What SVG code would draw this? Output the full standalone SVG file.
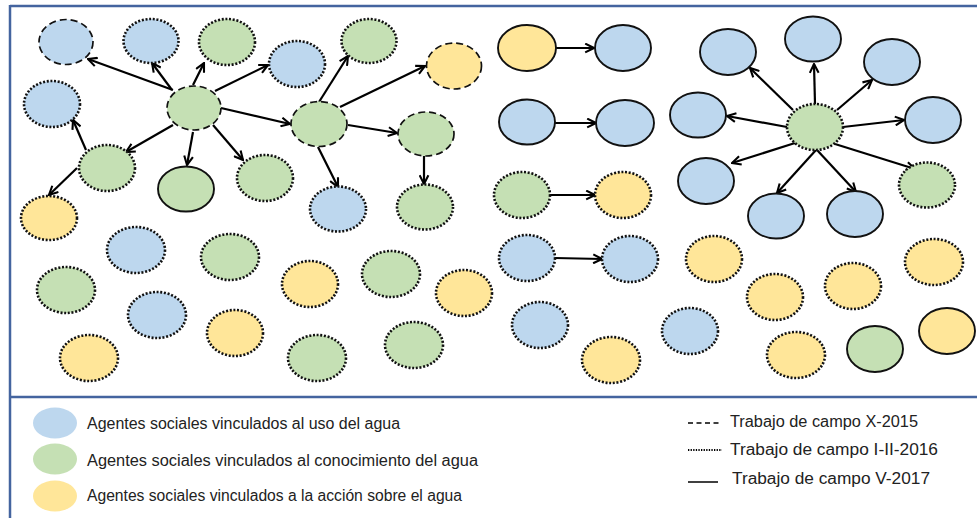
<svg xmlns="http://www.w3.org/2000/svg" width="977" height="518" viewBox="0 0 977 518">
<style>
.b{fill:#bdd7ee}.g{fill:#c5e0b4}.y{fill:#ffe699}
.dash{stroke:#111;stroke-width:1.7;stroke-dasharray:7 4}
.dot{stroke:#111;stroke-width:2.6;stroke-dasharray:2 1.7}
.sol{stroke:#111;stroke-width:1.9}
#edges line{stroke:#000;stroke-width:2.2;marker-end:url(#ah)}
.frame{stroke:#44649f;stroke-width:2.5;fill:none}
.lt{font-family:"Liberation Sans",Arial,sans-serif;font-size:16px;fill:#222}
</style>
<defs>
<marker id="ah" viewBox="0 0 10 10" refX="9" refY="5" markerWidth="11" markerHeight="11" markerUnits="userSpaceOnUse" orient="auto">
<path d="M1,1 L9,5 L1,9" fill="none" stroke="#000" stroke-width="1.9"/>
</marker>
</defs>
<rect width="977" height="518" fill="#fff"/>
<g id="frame">
<line class="frame" x1="10" y1="6" x2="977" y2="6"/>
<line class="frame" x1="10" y1="5" x2="10" y2="518"/>
<line class="frame" x1="10" y1="397" x2="977" y2="397"/>
</g>
<g id="edges">
<line x1="173" y1="90" x2="88" y2="59"/>
<line x1="172" y1="90" x2="152" y2="63"/>
<line x1="193" y1="85" x2="204" y2="63"/>
<line x1="215" y1="91" x2="268" y2="65"/>
<line x1="221" y1="108" x2="290" y2="124"/>
<line x1="173" y1="125" x2="126" y2="152"/>
<line x1="193" y1="132" x2="187" y2="165"/>
<line x1="213" y1="125" x2="243" y2="160"/>
<line x1="86" y1="150" x2="73" y2="120"/>
<line x1="77" y1="168" x2="49" y2="195"/>
<line x1="319" y1="102" x2="348" y2="56"/>
<line x1="340" y1="107" x2="425" y2="66"/>
<line x1="348" y1="125" x2="397" y2="133"/>
<line x1="318" y1="147" x2="338" y2="187"/>
<line x1="424" y1="156" x2="424" y2="184"/>
<line x1="556" y1="48" x2="594" y2="48"/>
<line x1="555" y1="123" x2="596" y2="123"/>
<line x1="550" y1="195" x2="595" y2="195"/>
<line x1="555" y1="258" x2="602" y2="259"/>
<line x1="793" y1="110" x2="750" y2="68"/>
<line x1="815" y1="104" x2="814" y2="64"/>
<line x1="837" y1="110" x2="872" y2="80"/>
<line x1="843" y1="127" x2="904" y2="120"/>
<line x1="787" y1="127" x2="727" y2="116"/>
<line x1="795" y1="143" x2="732" y2="163"/>
<line x1="835" y1="144" x2="915" y2="169"/>
<line x1="816" y1="150" x2="777" y2="193"/>
<line x1="817" y1="150" x2="856" y2="192"/>
</g>
<g id="n1"><ellipse class="b dash" cx="66" cy="42" rx="27" ry="22.5"/></g>
<g id="n2"><ellipse class="b dot" cx="151" cy="41" rx="27.5" ry="22"/></g>
<g id="n3"><ellipse class="g dot" cx="227" cy="42" rx="28" ry="23"/></g>
<g id="n4"><ellipse class="b dot" cx="297" cy="64" rx="28" ry="23"/></g>
<g id="n5"><ellipse class="g dot" cx="369" cy="41" rx="27.5" ry="22"/></g>
<g id="n6"><ellipse class="y dash" cx="454" cy="66" rx="27.5" ry="23"/></g>
<g id="n7"><ellipse class="b dot" cx="52" cy="104" rx="28" ry="23"/></g>
<g id="n8"><ellipse class="g dash" cx="194" cy="108" rx="27" ry="22"/></g>
<g id="n9"><ellipse class="g dash" cx="319" cy="124" rx="28" ry="22.5"/></g>
<g id="n10"><ellipse class="g dash" cx="426" cy="134" rx="28" ry="22"/></g>
<g id="n11"><ellipse class="g dot" cx="107" cy="168" rx="28" ry="23"/></g>
<g id="n12"><ellipse class="g sol" cx="186" cy="189" rx="28" ry="22.5"/></g>
<g id="n13"><ellipse class="g dot" cx="265" cy="178" rx="28" ry="23"/></g>
<g id="n14"><ellipse class="b dot" cx="338" cy="209" rx="28" ry="22.5"/></g>
<g id="n15"><ellipse class="g dot" cx="425" cy="207" rx="28" ry="22.5"/></g>
<g id="n16"><ellipse class="y dot" cx="49" cy="218" rx="28" ry="22"/></g>
<g id="n17"><ellipse class="b dot" cx="136" cy="250" rx="29" ry="23"/></g>
<g id="n18"><ellipse class="g dot" cx="230" cy="257" rx="29" ry="23"/></g>
<g id="n19"><ellipse class="g dot" cx="66" cy="290" rx="29" ry="23"/></g>
<g id="n20"><ellipse class="y dot" cx="310" cy="284" rx="28" ry="23"/></g>
<g id="n21"><ellipse class="g dot" cx="391" cy="274" rx="29" ry="23"/></g>
<g id="n22"><ellipse class="y dot" cx="464" cy="293" rx="28" ry="23"/></g>
<g id="n23"><ellipse class="b dot" cx="157" cy="315" rx="29" ry="23"/></g>
<g id="n24"><ellipse class="y dot" cx="235" cy="333" rx="28" ry="23"/></g>
<g id="n25"><ellipse class="y dot" cx="89" cy="358" rx="29" ry="23"/></g>
<g id="n26"><ellipse class="g dot" cx="317" cy="358" rx="29" ry="23"/></g>
<g id="n27"><ellipse class="g dot" cx="414" cy="345" rx="29" ry="23"/></g>
<g id="n28"><ellipse class="y sol" cx="527" cy="48" rx="29" ry="23"/></g>
<g id="n29"><ellipse class="b sol" cx="623" cy="48" rx="28" ry="23"/></g>
<g id="n30"><ellipse class="b sol" cx="527" cy="122" rx="28" ry="22.5"/></g>
<g id="n31"><ellipse class="b sol" cx="625" cy="123" rx="29" ry="23"/></g>
<g id="n32"><ellipse class="g dot" cx="522" cy="195" rx="28" ry="23"/></g>
<g id="n33"><ellipse class="y dot" cx="623" cy="195" rx="28" ry="23"/></g>
<g id="n34"><ellipse class="b sol" cx="728" cy="52" rx="28" ry="23"/></g>
<g id="n35"><ellipse class="b sol" cx="813" cy="39" rx="28" ry="22.5"/></g>
<g id="n36"><ellipse class="b sol" cx="892" cy="62" rx="28" ry="23"/></g>
<g id="n37"><ellipse class="b sol" cx="698" cy="115" rx="28" ry="22.5"/></g>
<g id="n38"><ellipse class="g dot" cx="815" cy="127" rx="28" ry="23"/></g>
<g id="n39"><ellipse class="b sol" cx="933" cy="120" rx="28" ry="23"/></g>
<g id="n40"><ellipse class="b sol" cx="706" cy="181" rx="28" ry="23"/></g>
<g id="n41"><ellipse class="g dot" cx="927" cy="185" rx="28" ry="22.5"/></g>
<g id="n42"><ellipse class="b sol" cx="776" cy="216" rx="28" ry="22.5"/></g>
<g id="n43"><ellipse class="b sol" cx="855" cy="214" rx="28" ry="23"/></g>
<g id="n44"><ellipse class="b dot" cx="527" cy="258" rx="28" ry="23"/></g>
<g id="n45"><ellipse class="b dot" cx="630" cy="259" rx="28" ry="23"/></g>
<g id="n46"><ellipse class="y dot" cx="714" cy="259" rx="28" ry="23"/></g>
<g id="n47"><ellipse class="y dot" cx="775" cy="297" rx="28" ry="23"/></g>
<g id="n48"><ellipse class="y dot" cx="853" cy="286" rx="28" ry="23"/></g>
<g id="n49"><ellipse class="y dot" cx="934" cy="262" rx="29" ry="23"/></g>
<g id="n50"><ellipse class="b dot" cx="540" cy="325" rx="28" ry="23"/></g>
<g id="n51"><ellipse class="b dot" cx="690" cy="331" rx="28" ry="23"/></g>
<g id="n52"><ellipse class="y dot" cx="611" cy="360" rx="29" ry="23"/></g>
<g id="n53"><ellipse class="y dot" cx="796" cy="355" rx="29" ry="23"/></g>
<g id="n54"><ellipse class="g sol" cx="875" cy="349" rx="28" ry="23"/></g>
<g id="n55"><ellipse class="y sol" cx="947" cy="331" rx="28" ry="23"/></g>
<g id="legend">
<ellipse class="b" cx="55" cy="423" rx="22" ry="15.5"/>
<ellipse class="g" cx="55" cy="459" rx="22" ry="15.5"/>
<ellipse class="y" cx="55" cy="496" rx="22" ry="15.5"/>
<text class="lt" x="87" y="429" textLength="313" lengthAdjust="spacingAndGlyphs">Agentes sociales vinculados al uso del agua</text>
<text class="lt" x="87" y="466" textLength="391" lengthAdjust="spacingAndGlyphs">Agentes sociales vinculados al conocimiento del agua</text>
<text class="lt" x="87" y="501" textLength="375" lengthAdjust="spacingAndGlyphs">Agentes sociales vinculados a la acción sobre el agua</text>
<line x1="688" y1="423" x2="722" y2="423" stroke="#000" stroke-width="1.5" stroke-dasharray="5 3.5"/>
<line x1="688" y1="450" x2="722" y2="450" stroke="#000" stroke-width="1.8" stroke-dasharray="1.3 1.3"/>
<line x1="688" y1="482" x2="718" y2="482" stroke="#000" stroke-width="1.5"/>
<text class="lt" x="730" y="427" textLength="188" lengthAdjust="spacingAndGlyphs">Trabajo de campo X-2015</text>
<text class="lt" x="730" y="455" textLength="208" lengthAdjust="spacingAndGlyphs">Trabajo de campo I-II-2016</text>
<text class="lt" x="732" y="484" textLength="198" lengthAdjust="spacingAndGlyphs">Trabajo de campo V-2017</text>
</g>
</svg>
